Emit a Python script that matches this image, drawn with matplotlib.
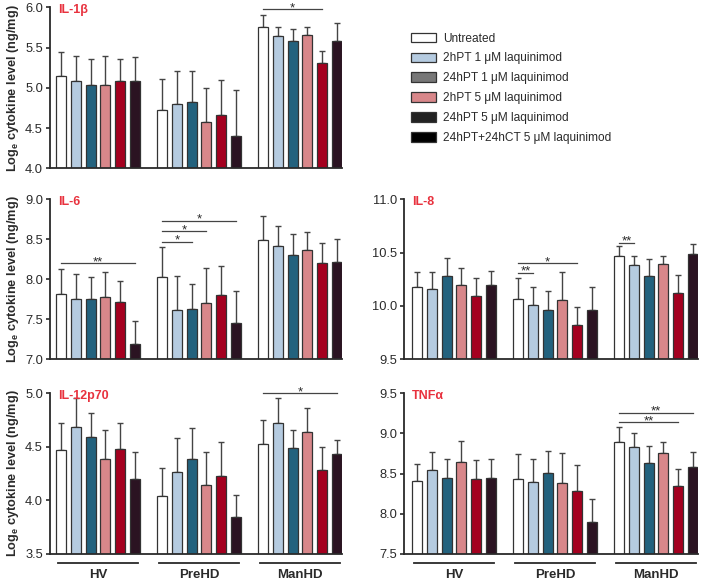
import matplotlib
matplotlib.use("agg")
import matplotlib.pyplot as plt
import matplotlib.transforms as mtransforms
from matplotlib.patches import Patch
import numpy as np

plt.rcParams['font.family'] = ['Liberation Sans', 'DejaVu Sans']
plt.rcParams['mathtext.fontset'] = 'custom'
plt.rcParams['mathtext.rm'] = 'Liberation Sans'
plt.rcParams['mathtext.bf'] = 'Liberation Sans:bold'

groups = ['HV', 'PreHD', 'ManHD']
treatments = ['Untreated', '2hPT 1 μM laquinimod', '24hPT 1 μM laquinimod',
              '2hPT 5 μM laquinimod', '24hPT 5 μM laquinimod',
              '24hPT+24hCT 5 μM laquinimod']

# means and SEM per group (rows) and treatment (columns)
il1b_mean = [[5.15, 5.09, 5.035, 5.035, 5.09, 5.08],
             [4.72, 4.80, 4.82, 4.57, 4.66, 4.40],
             [5.75, 5.64, 5.58, 5.65, 5.31, 5.58]]
il1b_err = [[0.29, 0.30, 0.325, 0.355, 0.27, 0.30],
            [0.39, 0.41, 0.39, 0.43, 0.44, 0.57],
            [0.16, 0.12, 0.15, 0.10, 0.15, 0.22]]

il6_mean = [[7.82, 7.75, 7.76, 7.78, 7.72, 7.19],
            [8.03, 7.62, 7.63, 7.70, 7.80, 7.45],
            [8.49, 8.42, 8.30, 8.37, 8.20, 8.22]]
il6_err = [[0.31, 0.31, 0.27, 0.31, 0.26, 0.29],
           [0.37, 0.42, 0.31, 0.44, 0.37, 0.40],
           [0.30, 0.25, 0.27, 0.22, 0.26, 0.29]]

il8_mean = [[10.18, 10.16, 10.28, 10.20, 10.09, 10.20],
            [10.07, 10.01, 9.96, 10.06, 9.82, 9.96],
            [10.47, 10.38, 10.28, 10.39, 10.12, 10.49]]
il8_err = [[0.14, 0.16, 0.17, 0.16, 0.17, 0.13],
           [0.19, 0.17, 0.18, 0.26, 0.17, 0.22],
           [0.09, 0.09, 0.16, 0.08, 0.17, 0.09]]

il12_mean = [[4.47, 4.69, 4.59, 4.39, 4.48, 4.20],
             [4.04, 4.27, 4.39, 4.14, 4.23, 3.85],
             [4.53, 4.72, 4.49, 4.64, 4.28, 4.43]]
il12_err = [[0.25, 0.27, 0.225, 0.265, 0.24, 0.25],
            [0.26, 0.31, 0.29, 0.31, 0.32, 0.20],
            [0.22, 0.24, 0.17, 0.22, 0.22, 0.13]]

tnf_mean = [[8.41, 8.54, 8.44, 8.64, 8.43, 8.45],
            [8.43, 8.39, 8.51, 8.38, 8.29, 7.90],
            [8.89, 8.83, 8.63, 8.76, 8.35, 8.58]]
tnf_err = [[0.21, 0.23, 0.24, 0.27, 0.24, 0.23],
           [0.31, 0.29, 0.27, 0.38, 0.32, 0.29],
           [0.19, 0.17, 0.22, 0.13, 0.21, 0.19]]

# significance brackets: (group, first bar, last bar, y, label)
il1b_sig = [(2, 0, 4, 5.975, '*')]
il6_sig = [(0, 0, 5, 8.20, '**'), (1, 0, 2, 8.47, '*'),
           (1, 0, 3, 8.60, '*'), (1, 0, 5, 8.73, '*')]
il8_sig = [(1, 0, 1, 10.31, '**'), (1, 0, 4, 10.40, '*'), (2, 0, 1, 10.59, '**')]
il12_sig = [(2, 0, 5, 5.0, '*')]
tnf_sig = [(2, 0, 4, 9.14, '**'), (2, 0, 5, 9.26, '**')]

bar_colors = ['#ffffff', '#b5cbe0', '#23627e', '#d8878a', '#a4001f', '#2b1322']
legend_colors = ['#ffffff', '#b5cbe0', '#777777', '#d8878a', '#222222', '#000000']
title_color = '#e8323e'
ink = '#2a2a2a'

step = 0.146
width = 0.10

fig = plt.figure(figsize=(7.09, 5.82), dpi=100)


def panel(rect, xlim, means, errs, sigs, ylim, title, ylabel, xlabels):
    ax = fig.add_axes(rect)
    for g in range(3):
        for i in range(6):
            x = g + (i - 2.5) * step
            ax.bar(x, means[g][i], width, bottom=0, color=bar_colors[i],
                   edgecolor='#333333', linewidth=0.9, zorder=2)
            ax.errorbar(x, means[g][i], yerr=[[0], [errs[g][i]]], fmt='none',
                        ecolor='#444444', elinewidth=1.0, capsize=2.2,
                        capthick=1.0, zorder=1)
    for g, i, j, y, lab in sigs:
        x0 = g + (i - 2.5) * step
        x1 = g + (j - 2.5) * step
        ax.plot([x0, x1], [y, y], color='#444444', lw=0.9, clip_on=False)
        # asterisks sit high in the glyph box, so drop the baseline a bit
        ax.annotate(lab, ((x0 + x1) / 2, y), xytext=(0, -1.3),
                    textcoords='offset points', ha='center', va='baseline',
                    fontsize=9.5, color=ink, annotation_clip=False)
    ax.set_xlim(*xlim)
    ax.set_ylim(*ylim)
    ax.set_yticks(np.arange(ylim[0], ylim[1] + 0.01, 0.5))
    ax.set_yticklabels([f'{v:.1f}' for v in ax.get_yticks()])
    ax.set_xticks([])
    for s in ['top', 'right']:
        ax.spines[s].set_visible(False)
    for s in ['left', 'bottom']:
        ax.spines[s].set_linewidth(1.3)
        ax.spines[s].set_color(ink)
    ax.tick_params(axis='y', length=3, width=1.2, color=ink, labelsize=9.3,
                   labelcolor=ink, pad=2)
    ax.text(0.027, 0.985, title, transform=ax.transAxes, ha='left',
            va='center', fontsize=9, fontweight='bold', color=title_color)
    if ylabel:
        ax.set_ylabel('Log$_\\mathbf{e}$ cytokine level (ng/mg)',
                      fontsize=9.2, fontweight='bold', color=ink, labelpad=3)
    if xlabels:
        tr = mtransforms.blended_transform_factory(ax.transData, ax.transAxes)
        for g, name in enumerate(groups):
            ax.plot([g - 0.40, g + 0.40], [-0.056, -0.056], color=ink, lw=1.3,
                    transform=tr, clip_on=False)
            ax.text(g, -0.13, name, transform=tr, ha='center', va='center',
                    fontsize=9.5, fontweight='bold', color=ink)
    return ax


lx, lw = 50 / 709, 292 / 709
rx, rw = 404 / 709, 294 / 709
b1, h1 = 1 - 168.3 / 582, 161 / 582
b2, h2 = 1 - 359.3 / 582, 160 / 582
b3, h3 = 1 - 554 / 582, 160.7 / 582
lxlim = (-0.475, 2.416)
rxlim = (-0.495, 2.416)

panel([lx, b1, lw, h1], lxlim, il1b_mean, il1b_err, il1b_sig, (4.0, 6.0),
      'IL-1β', True, False)
panel([lx, b2, lw, h2], lxlim, il6_mean, il6_err, il6_sig, (7.0, 9.0),
      'IL-6', True, False)
panel([rx, b2, rw, h2], rxlim, il8_mean, il8_err, il8_sig, (9.5, 11.0),
      'IL-8', False, False)
panel([lx, b3, lw, h3], lxlim, il12_mean, il12_err, il12_sig, (3.5, 5.0),
      'IL-12p70', True, True)
panel([rx, b3, rw, h3], rxlim, tnf_mean, tnf_err, tnf_sig, (7.5, 9.5),
      'TNFα', False, True)

handles = [Patch(facecolor=c, edgecolor='#333333', linewidth=0.9)
           for c in legend_colors]
fig.legend(handles, treatments, loc='upper left',
           bbox_to_anchor=(407 / 709, 1 - 29 / 582), frameon=False,
           fontsize=8.6, handlelength=2.1, handleheight=0.85,
           handletextpad=0.6, labelspacing=0.66, borderaxespad=0,
           borderpad=0.3, labelcolor=ink)

plt.savefig('out.png', dpi=100)
plt.close()
